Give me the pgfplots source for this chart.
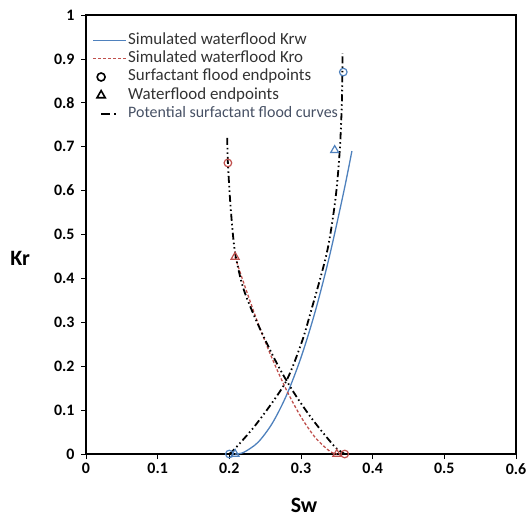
\documentclass[border=0pt]{standalone}
\usepackage{fontspec}
\setmainfont{Carlito}
\usepackage{pgfplots}
\pgfplotsset{compat=1.18}
\definecolor{xlblue}{RGB}{79,129,189}
\definecolor{xlred}{RGB}{192,80,77}
\definecolor{legtxt}{RGB}{50,50,50}
\definecolor{legtxtb}{RGB}{70,80,100}
\pgfplotsset{
  lineleg/.style={legend image code/.code={\draw[##1] (0bp,0bp) -- (33bp,0bp);}},
  shortleg/.style={legend image code/.code={\path (0bp,0bp) (33bp,0bp); \draw[##1] (8bp,0bp) -- (28bp,0bp);}},
  markleg/.style={legend image code/.code={\path (0bp,0bp) (33bp,0bp); \draw[##1] plot coordinates {(8bp,0bp)};}},
}
\begin{document}
\begin{tikzpicture}
\begin{axis}[
  name=ax, scale only axis, width=430bp, height=439bp,
  xmin=0, xmax=0.6, ymin=0, ymax=1,
  xtick={0,0.1,0.2,0.3,0.4,0.5,0.6},
  ytick={0,0.1,0.2,0.3,0.4,0.5,0.6,0.7,0.8,0.9,1},
  xtick pos=bottom, ytick pos=left,
  tick align=outside, major tick length=5bp,
  tick style={black, line width=0.6bp},
  axis line style={black, line width=1.2bp},
  /pgf/number format/assume math mode=true,
  ticklabel style={font=\fontsize{16}{18}\selectfont\bfseries},
  yticklabel style={xshift=-3bp},
  xticklabel style={yshift=-1bp},
  xlabel={Sw}, ylabel={Kr},
  label style={font=\fontsize{22}{25}\selectfont\bfseries},
  xlabel style={at={(axis description cs:0.507,-0.116)}, anchor=center},
  ylabel style={rotate=-90, at={(axis description cs:-0.153,0.446)}, anchor=center},
  legend cell align=left,
  legend style={at={(axis description cs:0.014,0.964)}, anchor=north west, draw=none, fill=none,
    font=\fontsize{17}{19}\selectfont, text=legtxt, inner sep=0pt,
    nodes={inner sep=1.2bp, text height=12bp, text depth=4bp},
    /tikz/every odd column/.style={column sep=0bp}},
]
% simulated waterflood Krw
\addplot[xlblue, line width=1.3bp, smooth, forget plot] coordinates {
(0.208,0) (0.22,0.0037) (0.24,0.0266) (0.26,0.0702) (0.28,0.1346) (0.30,0.2198)
(0.32,0.3257) (0.34,0.4525) (0.36,0.600) (0.371,0.69)};
% simulated waterflood Kro
\addplot[xlred, line width=1.3bp, dash pattern=on 3bp off 2bp, smooth, forget plot] coordinates {
(0.208,0.449) (0.22,0.390) (0.24,0.298) (0.26,0.2165) (0.28,0.1448) (0.30,0.0845)
(0.32,0.0373) (0.34,0.0064) (0.35,0)};
% potential surfactant flood curves
\addplot[black, line width=1.8bp, dash pattern=on 7bp off 3bp on 1.5bp off 3bp on 1.5bp off 3bp, smooth, forget plot] coordinates {
(0.197,0.72) (0.198,0.663) (0.201,0.58) (0.205,0.50) (0.209,0.449) (0.219,0.38)
(0.233,0.321) (0.25,0.26) (0.27,0.195) (0.29,0.14) (0.31,0.092) (0.324,0.062)
(0.34,0.03) (0.35,0.012) (0.361,0)};
\addplot[black, line width=1.8bp, dash pattern=on 7bp off 3bp on 1.5bp off 3bp on 1.5bp off 3bp, smooth, forget plot] coordinates {
(0.2,0) (0.21,0.016) (0.239,0.071) (0.278,0.162) (0.30,0.25) (0.313,0.32)
(0.336,0.458) (0.348,0.58) (0.354,0.69) (0.357,0.80) (0.358,0.913)};
% endpoints
\addplot[only marks, mark=o, mark size=3.8bp, xlblue, mark options={line width=1.2bp}, forget plot] coordinates {(0.2,0) (0.359,0.870)};
\addplot[only marks, mark=o, mark size=3.8bp, xlred, mark options={line width=1.2bp}, forget plot] coordinates {(0.198,0.663) (0.361,0)};
\addplot[only marks, mark=triangle, mark size=4.6bp, xlblue, mark options={line width=1.2bp}, forget plot] coordinates {(0.208,0) (0.347,0.692)};
\addplot[only marks, mark=triangle, mark size=4.6bp, xlred, mark options={line width=1.2bp}, forget plot] coordinates {(0.208,0.449) (0.350,0)};
% legend
\addlegendimage{xlblue, line width=1.3bp, lineleg}
\addlegendentry{Simulated waterflood Krw}
\addlegendimage{xlred, line width=1.3bp, dash pattern=on 3bp off 2bp, lineleg}
\addlegendentry{Simulated waterflood Kro}
\addlegendimage{black, mark=o, mark size=4bp, mark options={line width=1.6bp}, markleg}
\addlegendentry{Surfactant flood endpoints}
\addlegendimage{black, mark=triangle, mark size=4.8bp, mark options={line width=1.6bp}, markleg}
\addlegendentry{Waterflood endpoints}
\addlegendimage{black, line width=1.8bp, dash pattern=on 9bp off 4bp on 1.5bp off 10bp, shortleg}
\addlegendentry{\fontsize{16}{18}\selectfont\color{legtxtb}Potential surfactant flood curves}
\end{axis}
\pgfresetboundingbox
\path[use as bounding box] ([shift={(-86bp,-62bp)}]ax.south west) rectangle ([shift={(11bp,15bp)}]ax.north east);
\end{tikzpicture}
\end{document}
